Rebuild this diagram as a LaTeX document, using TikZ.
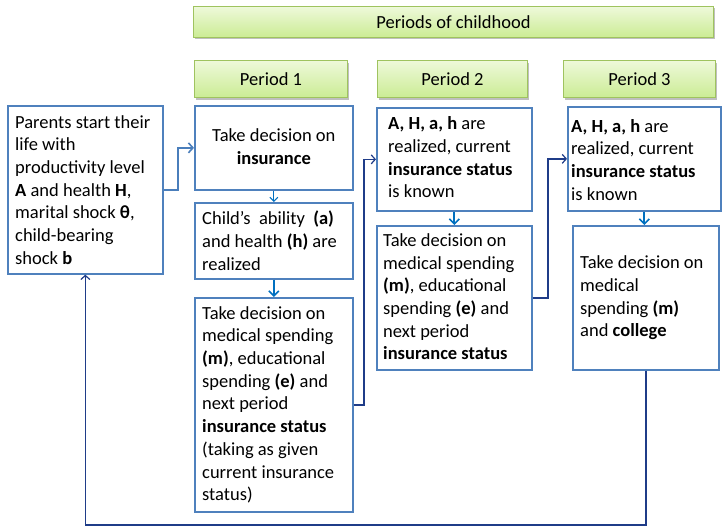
\documentclass[tikz,border=0pt]{standalone}
\usepackage{fontspec}
\setmainfont{Carlito}
\usetikzlibrary{arrows.meta,shadows}
\definecolor{boxblue}{HTML}{4F81BD}
\definecolor{intrablue}{HTML}{0070C0}
\definecolor{navyline}{HTML}{1F3C88}
\definecolor{startblue}{HTML}{4A7EBB}
\definecolor{hdtop}{HTML}{EEF9DA}
\definecolor{hdbot}{HTML}{CBEC94}
\definecolor{hdborder}{HTML}{9FC35F}
\begin{document}
\begin{tikzpicture}[x=1pt,y=-1pt,
  bluebox/.style={draw=boxblue, line width=1.7pt, fill=white, inner sep=0pt, anchor=north west},
  hdr/.style={draw=hdborder, line width=1pt, top color=hdtop, bottom color=hdbot, inner sep=0pt, anchor=north west,
     drop shadow={shadow xshift=1pt, shadow yshift=-2pt, opacity=0.25, fill=black},
     font=\fontsize{18.5}{22.7}\selectfont},
  txt/.style={align=left, inner sep=0pt, font=\fontsize{18.5}{22.7}\selectfont},
  ctxt/.style={align=center, inner sep=0pt, font=\fontsize{18.5}{22.7}\selectfont},
  intra/.style={draw=intrablue, line width=1.8pt, -{Straight Barb[length=5pt,width=10pt,line width=1.6pt]}},
  thinintra/.style={draw=intrablue, line width=1.1pt, -{Straight Barb[length=4pt,width=8pt,line width=1.1pt]}},
  cross/.style={draw=navyline, line width=1.3pt, -{Straight Barb[length=4pt,width=9pt,line width=1.2pt]}},
  startln/.style={draw=startblue, line width=2pt, -{Straight Barb[length=4.5pt,width=10pt,line width=1.6pt]}}
]
\useasboundingbox (0,0) rectangle (722,527);

% headers
\node[hdr, minimum width=520, minimum height=31] (banner) at (193,6) {Periods of childhood};
\node[hdr, minimum width=153, minimum height=37] (h1) at (194,60) {Period 1};
\node[hdr, minimum width=150, minimum height=37] (h2) at (377,60) {Period 2};
\node[hdr, minimum width=152, minimum height=37] (h3) at (563,60) {Period 3};

% boxes
\node[bluebox, minimum width=155, minimum height=168] (par) at (7,105) {};
\node[bluebox, minimum width=158, minimum height=84] (ins) at (194,105) {};
\node[bluebox, minimum width=158, minimum height=76] (child) at (194,202) {};
\node[bluebox, minimum width=158, minimum height=214] (p1c) at (194,297) {};
\node[bluebox, minimum width=155, minimum height=103] (p2a) at (376,107) {};
\node[bluebox, minimum width=155, minimum height=144] (p2b) at (376,225) {};
\node[bluebox, minimum width=153, minimum height=104] (p3a) at (567,106) {};
\node[bluebox, minimum width=146, minimum height=144] (p3b) at (572,225) {};

% texts
\node[txt, anchor=west] (part) at ([xshift=8]par.west) {Parents start their\\life with\\productivity level\\\textbf{A} and health \textbf{H},\\marital shock \textbf{θ},\\child-bearing\\shock \textbf{b}};
\node[ctxt] (inst) at ([yshift=1]ins.center) {Take decision on\\\textbf{insurance}};
\node[txt, anchor=west] (childt) at ([xshift=8]child.west) {Child’s\ \ ability\ \ \textbf{(a)}\\and health \textbf{(h)} are\\realized};
\node[txt, anchor=west] (p1ct) at ([xshift=8]p1c.west) {Take decision on\\medical spending\\\textbf{(m)}, educational\\spending \textbf{(e)} and\\next period\\\textbf{insurance status}\\(taking as given\\current insurance\\status)};
\node[txt, anchor=west] (p2at) at ([xshift=12,yshift=2]p2a.west) {\textbf{A, H, a, h} are\\realized, current\\\textbf{insurance status}\\is known};
\node[txt, anchor=west] (p2bt) at ([xshift=7,yshift=1]p2b.west) {Take decision on\\medical spending\\\textbf{(m)}, educational\\spending \textbf{(e)} and\\next period\\\textbf{insurance status}};
\node[txt, anchor=west] (p3at) at ([xshift=4,yshift=-1]p3a.west) {\textbf{A, H, a, h} are\\realized, current\\\textbf{insurance status}\\is known};
\node[txt, anchor=west] (p3bt) at ([xshift=8]p3b.west) {Take decision on\\medical\\spending \textbf{(m)}\\and \textbf{college}};

% connectors
\coordinate (c01) at (178,0);
\coordinate (c12) at (364,0);
\coordinate (c23) at (548,0);
\coordinate (loopy) at (0,525);

\draw[startln] (par.east) -- (c01 |- par.east) -- (c01 |- ins.west) -- (ins.west);
\draw[thinintra] (ins.south) -- (child.north);
\draw[intra] (child.south) -- (p1c.north);
\draw[cross] (p1c.east) -- (c12 |- p1c.east) -- (c12 |- p2a.west) -- (p2a.west);
\draw[intra] (p2a.south) -- (p2b.north);
\draw[cross] (p2b.east) -- (c23 |- p2b.east) -- (c23 |- p3a.west) -- (p3a.west);
\draw[intra] (p3a.south) -- (p3a.south |- p3b.north);
\draw[cross] (p3b.south) -- (p3b.south |- loopy) -- (par.south |- loopy) -- (par.south);
\end{tikzpicture}
\end{document}
